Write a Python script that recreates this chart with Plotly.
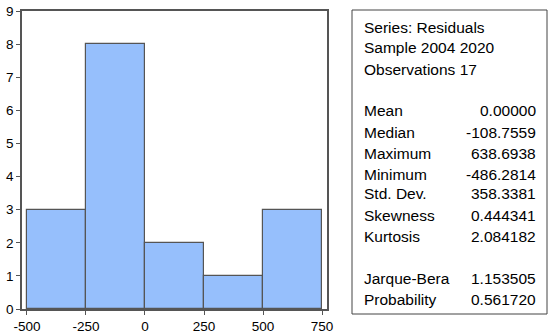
import plotly.graph_objects as go

# Histogram data
bin_starts = [-500, -250, 0, 250, 500]
bin_width = 250
counts = [3, 8, 2, 1, 3]
x_ticks = [-500, -250, 0, 250, 500, 750]
x_tick_labels = ["-500", "-250", "0", "250", "500", "750"]
y_ticks = [0, 1, 2, 3, 4, 5, 6, 7, 8, 9]

# Statistics panel
header_lines = ["Series: Residuals", "Sample 2004 2020", "Observations 17"]
stat_labels = ["Mean", "Median", "Maximum", "Minimum", "Std. Dev.", "Skewness", "Kurtosis"]
stat_values = ["0.00000", "-108.7559", "638.6938", "-486.2814", "358.3381", "0.444341", "2.084182"]
test_labels = ["Jarque-Bera", "Probability"]
test_values = ["1.153505", "0.561720"]

W, H = 550, 334
L, R, T, B = 22, 327, 11, 309

def px(x):
    return (x - L) / (R - L)

def py(y):
    return (B - y) / (B - T)

fig = go.Figure()
fig.add_trace(go.Bar(
    x=bin_starts, y=counts, width=bin_width, offset=0,
    marker=dict(color="#96bffc", line=dict(color="#555555", width=1.2)),
    hoverinfo="skip",
))

font = "Liberation Sans, Arial, sans-serif"
fig.update_layout(
    width=W, height=H,
    margin=dict(l=L, r=W - R, t=T, b=H - B, pad=0, autoexpand=False),
    plot_bgcolor="white", paper_bgcolor="white",
    showlegend=False, bargap=0,
    font=dict(family=font, size=13.5, color="black"),
    xaxis=dict(range=[-521, 771], tickvals=x_ticks, ticktext=x_tick_labels,
               ticks="outside", ticklen=4,
               tickcolor="#555555", showgrid=False, zeroline=False, showline=True,
               linecolor="#555555", linewidth=1.5, mirror=True, automargin=False,
               tickfont=dict(size=13.5)),
    yaxis=dict(range=[0, 9], tickvals=y_ticks, ticks="outside", ticklen=4,
               tickcolor="#555555", showgrid=False, zeroline=False, showline=True,
               linecolor="#555555", linewidth=1.5, mirror=True, automargin=False,
               tickfont=dict(size=13.5)),
)

# Stats box
fig.add_shape(type="rect", xref="paper", yref="paper",
              x0=px(352), x1=px(547), y0=py(314), y1=py(10),
              line=dict(color="#444444", width=1), fillcolor="rgba(0,0,0,0)")

lx, rx = px(362), px(538)
fs = 15.5
ys_header = [27, 48, 69]
for text, y in zip(header_lines, ys_header):
    fig.add_annotation(text=text, xref="paper", yref="paper", x=lx, y=py(y),
                       xanchor="left", yanchor="middle", showarrow=False,
                       font=dict(size=fs, family=font))
ys_stats = [111, 132, 153, 174, 194, 215, 236]
for lab, val, y in zip(stat_labels, stat_values, ys_stats):
    fig.add_annotation(text=lab, xref="paper", yref="paper", x=lx, y=py(y),
                       xanchor="left", yanchor="middle", showarrow=False,
                       font=dict(size=fs, family=font))
    fig.add_annotation(text=val, xref="paper", yref="paper", x=rx, y=py(y),
                       xanchor="right", yanchor="middle", showarrow=False,
                       font=dict(size=fs, family=font))
ys_test = [278, 299]
for lab, val, y in zip(test_labels, test_values, ys_test):
    fig.add_annotation(text=lab, xref="paper", yref="paper", x=lx, y=py(y),
                       xanchor="left", yanchor="middle", showarrow=False,
                       font=dict(size=fs, family=font))
    fig.add_annotation(text=val, xref="paper", yref="paper", x=rx, y=py(y),
                       xanchor="right", yanchor="middle", showarrow=False,
                       font=dict(size=fs, family=font))

fig.write_html("out.html", config={"displayModeBar": False},
               post_script="document.body.style.margin='0';")
